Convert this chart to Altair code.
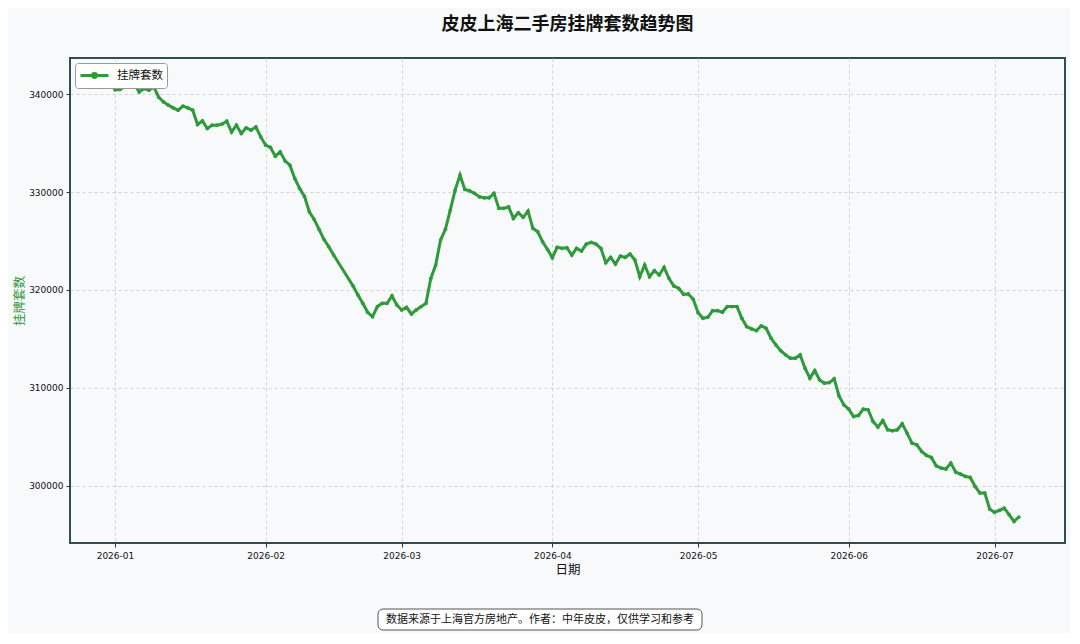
import altair as alt
import pandas as pd

# ---- data ----
start_date = "2026-01-01"
skipped_days = ["2026-02-16", "2026-02-17", "2026-02-18"]  # no points on the chart (Spring Festival)

listings = [
    340450, 340480, 340745, 340920, 341020, 340235, 340580, 340410, 340745, 339690,
    339215, 338880, 338600, 338370, 338775, 338600, 338370, 336910, 337275, 336500,
    336840, 336840, 336940, 337245, 336150, 336840, 335990, 336560, 336330, 336665,
    335640, 334800, 334560, 333670, 334110, 333190, 332755, 331400, 330380, 329560,
    327990, 327210, 326190, 325170, 324420, 323570,
    # after the holiday gap
    320410, 319490, 318640, 317720, 317275, 318300, 318640, 318640, 319390, 318470,
    317960, 318235, 317550, 317960, 318300, 318640, 321195, 322550, 325100, 326195,
    328160, 330200, 331735, 330275, 330130, 329870, 329520, 329420, 329420, 329870,
    328340, 328340, 328500, 327315, 327890, 327420, 328060, 326300, 325950, 324930,
    324150, 323300, 324360, 324255, 324315, 323570, 324255, 323980, 324690, 324865,
    324690, 324255, 322785, 323335, 322650, 323470, 323335, 323670, 323060, 321355,
    322550, 321355, 321970, 321530, 322315, 321195, 320410, 320175, 319560, 319590,
    319050, 317680, 317110, 317215, 317890, 317890, 317725, 318300, 318300, 318300,
    317110, 316255, 316020, 315850, 316330, 316090, 315070, 314390, 313805, 313370,
    313030, 313030, 313370, 312010, 310990, 311765, 310815, 310480, 310540, 310920,
    309180, 308265, 307825, 307070, 307175, 307825, 307755, 306560, 305990, 306665,
    305715, 305610, 305715, 306330, 305380, 304360, 304185, 303500, 303090, 302890,
    302040, 301805, 301705, 302315, 301400, 301195, 300950, 300850, 299930, 299255,
    299255, 297620, 297275, 297480, 297720, 297040, 296355, 296805,
]

series_name = "挂牌套数"
title_text = "皮皮上海二手房挂牌套数趋势图"
x_title = "日期"
y_title = "挂牌套数"
footer_text = "数据来源于上海官方房地产。作者：中年皮皮，仅供学习和参考"
y_ticks = [300000, 310000, 320000, 330000, 340000]
x_ticks = ["2026-01-01", "2026-02-01", "2026-03-01", "2026-04-01",
           "2026-05-01", "2026-06-01", "2026-07-01"]

all_days = pd.date_range(start_date, periods=len(listings) + len(skipped_days), freq="D")
days = [d for d in all_days if d.strftime("%Y-%m-%d") not in skipped_days][: len(listings)]

df = pd.DataFrame({"date": days, "value": listings, "series": series_name})

GREEN = "#2E9A3C"
BG = "#F7F9FA"
CJK = "Noto Sans CJK SC"
W, H = 995, 485

x_scale = alt.Scale(domain=["2025-12-22T18:00:00", "2026-07-15T12:00:00"], nice=False)
y_scale = alt.Scale(domain=[294150, 343700], nice=False, zero=False)

legend_symbol = "M-1,0H3M0.72,0A0.28,0.28 0 1,0 1.28,0A0.28,0.28 0 1,0 0.72,0"

line = alt.Chart(df).mark_line(
    strokeWidth=3, point=alt.OverlayMarkDef(size=14, filled=True, color=GREEN)
).encode(
    x=alt.X("date:T", scale=x_scale,
            axis=alt.Axis(values=[pd.Timestamp(t).isoformat() for t in x_ticks],
                          format="%Y-%m", title=x_title)),
    y=alt.Y("value:Q", scale=y_scale,
            axis=alt.Axis(values=y_ticks, format="d", title=y_title,
                          titleColor=GREEN)),
    color=alt.Color("series:N", scale=alt.Scale(range=[GREEN]),
                    legend=alt.Legend(title=None, orient="top-left", offset=5,
                                      symbolType=legend_symbol,
                                      symbolSize=196, symbolStrokeWidth=3,
                                      symbolStrokeColor=GREEN, symbolFillColor=GREEN,
                                      labelOffset=21,
                                      labelFont=CJK, labelFontSize=11.5, labelColor="#111",
                                      fillColor="white", strokeColor="#9a9a9a",
                                      padding=4, cornerRadius=3)),
)

footer_df = pd.DataFrame({"label": [footer_text]})
footer_box = alt.Chart(footer_df).mark_rect(
    fill="white", stroke="#555", strokeWidth=1, cornerRadius=5
).encode(x=alt.value(308), x2=alt.value(632), y=alt.value(551), y2=alt.value(572))
footer_txt = alt.Chart(footer_df).mark_text(
    font=CJK, fontSize=11, color="#111", align="center", baseline="middle"
).encode(text="label:N", x=alt.value(470), y=alt.value(561.5))

chart = alt.layer(line, footer_box, footer_txt).properties(
    width=W, height=H,
    autosize=alt.AutoSizeParams(type="none"),
    padding={"left": 62, "top": 50, "right": 5, "bottom": 90},
    background=BG,
    title=alt.TitleParams(title_text, font=CJK, fontSize=18, fontWeight="bold",
                          color="#111", anchor="middle", offset=24),
).configure_view(
    stroke="#2F4F4F", strokeWidth=2, fill=BG
).configure_axis(
    domain=False, grid=True, gridColor="#c8c8c8", gridDash=[3, 3], gridWidth=0.8,
    tickColor="#333", tickSize=4, labelFont="DejaVu Sans", labelFontSize=9,
    labelColor="#111", titleFont=CJK, titleFontSize=12.5, titleFontWeight="normal",
    titleColor="#111",
).configure_axisY(titlePadding=2, labelPadding=3).configure_axisX(
    titlePadding=3, labelPadding=4
)

chart.save("out.html", embed_options={"renderer": "svg", "actions": False})
